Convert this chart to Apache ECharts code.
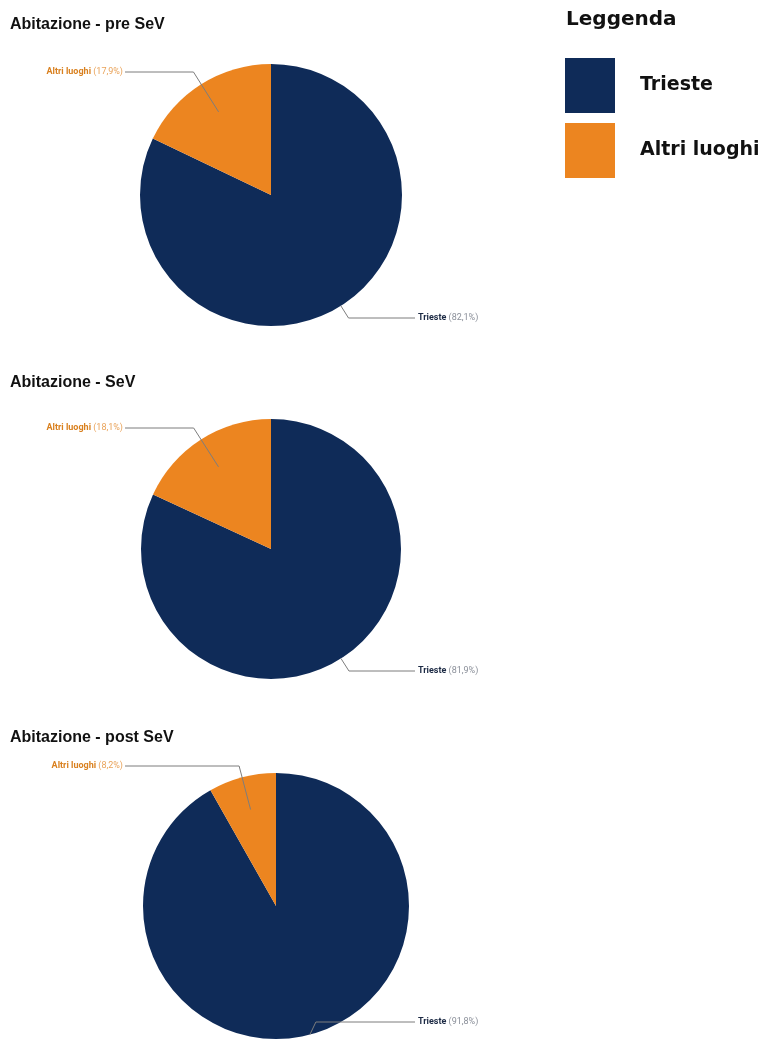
<!DOCTYPE html>
<html><head><meta charset="utf-8">
<script src="https://cdn.jsdelivr.net/npm/echarts@6/dist/echarts.min.js"></script>
<style>html,body{margin:0;padding:0;background:#fff}#c{width:765px;height:1054px}</style>
</head><body><div id="c"></div>
<script>
const categories = ['Trieste', 'Altri luoghi'];
const panelTitles = ['Abitazione - pre SeV', 'Abitazione - SeV', 'Abitazione - post SeV'];
const preSeV = [82.1, 17.9];
const seV = [81.9, 18.1];
const postSeV = [91.8, 8.2];
const legendTitle = 'Leggenda';

const colors = ['#0f2b58', '#ec8520'];
const panels = [preSeV, seV, postSeV];
const centers = [[271, 195], [271, 549], [276, 906]];
const radii = [131, 130, 133];
const titleTops = [17, 375, 730];
const labelYs = [[318, 72], [671, 428], [1022, 766]];

const fmt = v => v.toFixed(1).replace('.', ',');

const chart = echarts.init(document.getElementById('c'));
const titles = panelTitles.map((t, i) => ({
  text: t, left: 10, top: titleTops[i], padding: 0,
  textStyle: { fontFamily: 'Liberation Sans', fontWeight: 'bold', fontSize: 16, color: '#111' }
}));
titles.push({
  text: legendTitle, left: 566, top: 10, padding: 0,
  textStyle: { fontFamily: 'DejaVu Sans', fontWeight: 'bold', fontSize: 20, color: '#111' }
});

function makeLayout(s) {
  return function (params) {
    const vals = panels[s];
    const total = vals.reduce((a, b) => a + b, 0);
    const k = params.dataIndex;
    let cum = 0;
    for (let j = 0; j < k; j++) cum += vals[j];
    const a = (cum + vals[k] / 2) / total * Math.PI * 2;
    const dx = Math.sin(a), dy = -Math.cos(a);
    const c = centers[s], r = radii[s];
    const isAltri = k === 1;
    const f = isAltri ? 0.75 : 1.0;
    const sx = c[0] + r * f * dx, sy = c[1] + r * f * dy;
    const y = labelYs[s][k];
    const t = (y - c[1]) / dy;
    let ex;
    if (t < r * f + 4) { ex = sx + 6; } else { ex = c[0] + t * dx; }
    const endX = isAltri ? 125 : 415;
    return {
      x: isAltri ? 123 : 418,
      y: y,
      align: isAltri ? 'right' : 'left',
      verticalAlign: 'middle',
      labelLinePoints: [[sx, sy], [ex, y], [endX, y]]
    };
  };
}

const mainSeries = panels.map((vals, i) => ({
  type: 'pie',
  z: 1,
  center: centers[i],
  radius: [0, radii[i]],
  startAngle: 90,
  clockwise: true,
  silent: true,
  emphasis: { disabled: true },
  label: { show: false },
  labelLine: { show: false },
  data: categories.map((c, k) => ({ name: c, value: vals[k], itemStyle: { color: colors[k] } }))
}));

const labelSeries = panels.map((vals, i) => ({
  type: 'pie',
  z: 5,
  center: centers[i],
  radius: [0, radii[i]],
  startAngle: 90,
  clockwise: true,
  silent: true,
  legendHoverLink: false,
  emphasis: { disabled: true },
  itemStyle: { color: 'rgba(0,0,0,0)' },
  data: categories.map((c, k) => ({
    name: c, value: vals[k],
    itemStyle: { color: 'rgba(0,0,0,0)' },
    label: {
      color: k === 0 ? '#8a8f99' : '#e9a35a',
      rich: { n: { color: k === 0 ? '#1c2a44' : '#d9801f' } }
    }
  })),
  label: {
    show: true,
    position: 'outside',
    fontFamily: 'Roboto',
    fontSize: 9,
    formatter: p => '{n|' + p.name + '} (' + fmt(p.value) + '%)',
    rich: { n: { fontWeight: 'bold', fontSize: 9, fontFamily: 'Roboto' } }
  },
  labelLine: { show: true, length: 15, length2: 62, lineStyle: { color: '#7d7d7d', width: 1 } },
  labelLayout: makeLayout(i)
}));

chart.setOption({
  animation: false,
  backgroundColor: '#fff',
  title: titles,
  legend: {
    data: categories.map((c, k) => ({ name: c, itemStyle: { color: colors[k] } })),
    orient: 'vertical',
    left: 565, top: 58, padding: 0,
    itemWidth: 50, itemHeight: 55, itemGap: 10,
    icon: 'rect',
    selectedMode: false,
    textStyle: { fontFamily: 'DejaVu Sans', fontWeight: 'bold', fontSize: 19, color: '#111', padding: [0, 0, 0, 20] }
  },
  series: mainSeries.concat(labelSeries)
});
</script></body></html>
